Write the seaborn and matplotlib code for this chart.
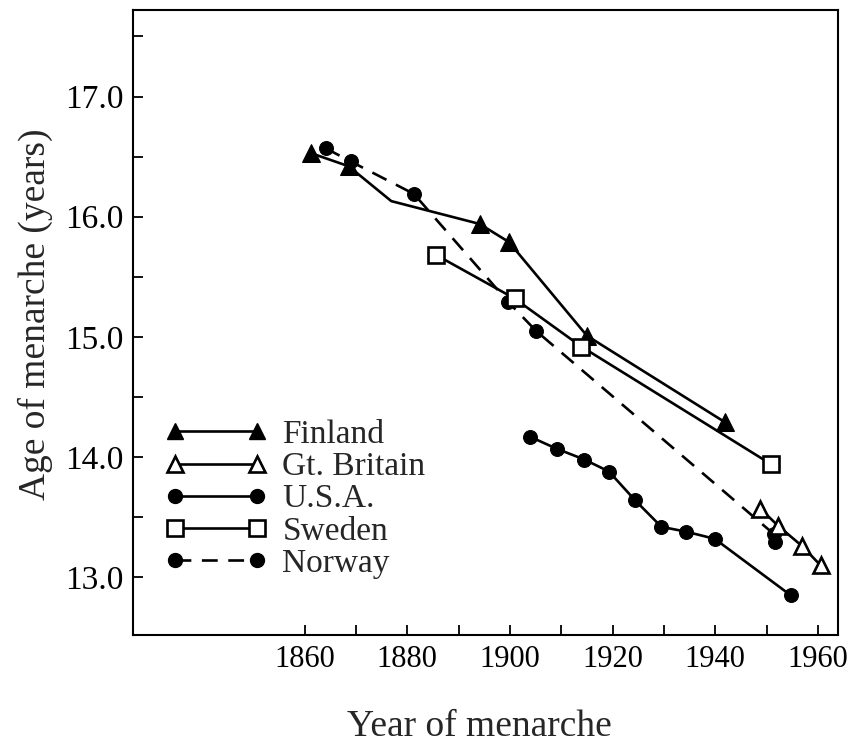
import numpy as np
import pandas as pd
import matplotlib
matplotlib.use("Agg")
import matplotlib.pyplot as plt
from matplotlib.lines import Line2D
import matplotlib.ticker as mticker
import seaborn as sns

# ---- data ----
finland_year = [1861.2, 1868.6, 1876.9, 1894.1, 1899.8, 1915.0, 1941.9]
finland_age = [16.53, 16.42, 16.13, 15.94, 15.79, 15.01, 14.29]
finland_marked = [True, True, False, True, True, True, True]

britain_year = [1948.8, 1952.2, 1956.9, 1960.5]
britain_age = [13.57, 13.43, 13.26, 13.10]

usa_year = [1903.9, 1909.1, 1914.5, 1919.3, 1924.4, 1929.5, 1934.3, 1939.9, 1954.7]
usa_age = [14.17, 14.07, 13.98, 13.88, 13.64, 13.42, 13.38, 13.32, 12.85]

sweden_year = [1885.7, 1900.9, 1913.9, 1950.9]
sweden_age = [15.68, 15.32, 14.92, 13.94]

norway_year = [1864.1, 1869.0, 1881.3, 1899.7, 1905.1, 1951.4, 1951.7]
norway_age = [16.57, 16.46, 16.19, 15.29, 15.05, 13.36, 13.29]

legend_labels = ["Finland", "Gt. Britain", "U.S.A.", "Sweden", "Norway"]
x_ticks = [1860, 1880, 1900, 1920, 1940, 1960]
y_ticks = [13.0, 14.0, 15.0, 16.0, 17.0]

# ---- style ----
sns.set_style("ticks")
plt.rcParams["font.family"] = ["Liberation Serif", "DejaVu Serif"]

fig = plt.figure(figsize=(8.48, 7.44), dpi=100)
ax = fig.add_axes([133 / 848, 1 - 635 / 744, 705 / 848, 625 / 744])

LW = 1.9
DASH = (0, (6, 4))

# Finland: line through all vertices, markers on the measured points
fin = pd.DataFrame({"year": finland_year, "age": finland_age, "m": finland_marked})
sns.lineplot(data=fin, x="year", y="age", ax=ax, sort=False, estimator=None,
             color="black", lw=LW, zorder=3)

norw = pd.DataFrame({"year": norway_year, "age": norway_age})
sns.lineplot(data=norw, x="year", y="age", ax=ax, sort=False, estimator=None,
             color="black", lw=LW, linestyle=DASH, marker="o", markersize=10,
             markerfacecolor="black", markeredgecolor="black", zorder=3)

sns.lineplot(data=fin[fin["m"]], x="year", y="age", ax=ax, sort=False, estimator=None,
             color="black", lw=0, marker="^", markersize=13,
             markerfacecolor="black", markeredgecolor="black", zorder=4)

usa = pd.DataFrame({"year": usa_year, "age": usa_age})
sns.lineplot(data=usa, x="year", y="age", ax=ax, sort=False, estimator=None,
             color="black", lw=LW, marker="o", markersize=10,
             markerfacecolor="black", markeredgecolor="black", zorder=3)

swe = pd.DataFrame({"year": sweden_year, "age": sweden_age})
sns.lineplot(data=swe, x="year", y="age", ax=ax, sort=False, estimator=None,
             color="black", lw=LW, marker="s", markersize=11,
             markerfacecolor="white", markeredgecolor="black", markeredgewidth=1.9,
             zorder=5)

gb = pd.DataFrame({"year": britain_year, "age": britain_age})
sns.lineplot(data=gb, x="year", y="age", ax=ax, sort=False, estimator=None,
             color="black", lw=LW, marker="^", markersize=12,
             markerfacecolor="white", markeredgecolor="black", markeredgewidth=1.9,
             zorder=5)

# ---- axes ----
ax.set_xlim(1826.6, 1963.9)
ax.set_ylim(12.52, 17.72)
ax.set_xticks(x_ticks)
ax.set_xticklabels([str(v) for v in x_ticks])
ax.xaxis.set_minor_locator(mticker.FixedLocator([1870, 1890, 1910, 1930, 1950]))
ax.set_yticks(y_ticks)
ax.set_yticklabels([f"{v:.1f}" for v in y_ticks])
ax.yaxis.set_minor_locator(mticker.FixedLocator([13.5, 14.5, 15.5, 16.5, 17.5]))
ax.tick_params(axis="both", which="both", direction="in", length=7, width=1.3,
               top=False, right=False, colors="black")
ax.tick_params(axis="y", which="major", pad=7, labelsize=24)
ax.tick_params(axis="x", which="major", pad=7, labelsize=22)
for s in ax.spines.values():
    s.set_visible(True)
    s.set_linewidth(1.5)
    s.set_color("black")

ax.set_xlabel("Year of menarche", fontsize=27)
ax.set_ylabel("Age of menarche (years)", fontsize=27)
ax.xaxis.set_label_coords(0.492, -0.12)
ax.yaxis.set_label_coords(-0.113, 0.514)

# ---- legend ----
handles = [
    Line2D([], [], color="black", lw=LW, marker="^", markersize=12,
           markerfacecolor="black", markeredgecolor="black"),
    Line2D([], [], color="black", lw=LW, marker="^", markersize=12,
           markerfacecolor="white", markeredgecolor="black", markeredgewidth=1.9),
    Line2D([], [], color="black", lw=LW, marker="o", markersize=10,
           markerfacecolor="black", markeredgecolor="black"),
    Line2D([], [], color="black", lw=LW, marker="s", markersize=11,
           markerfacecolor="white", markeredgecolor="black", markeredgewidth=1.9),
    Line2D([], [], color="black", lw=LW, linestyle=DASH, marker="o", markersize=10,
           markerfacecolor="black", markeredgecolor="black"),
]
ax.legend(handles, legend_labels, loc="upper left", bbox_to_anchor=(0.027, 0.366),
          borderaxespad=0, frameon=False, fontsize=24, numpoints=2,
          handlelength=3.06, handletextpad=0.45, labelspacing=0.05)

fig.savefig("out.png", dpi=100, facecolor="white")
